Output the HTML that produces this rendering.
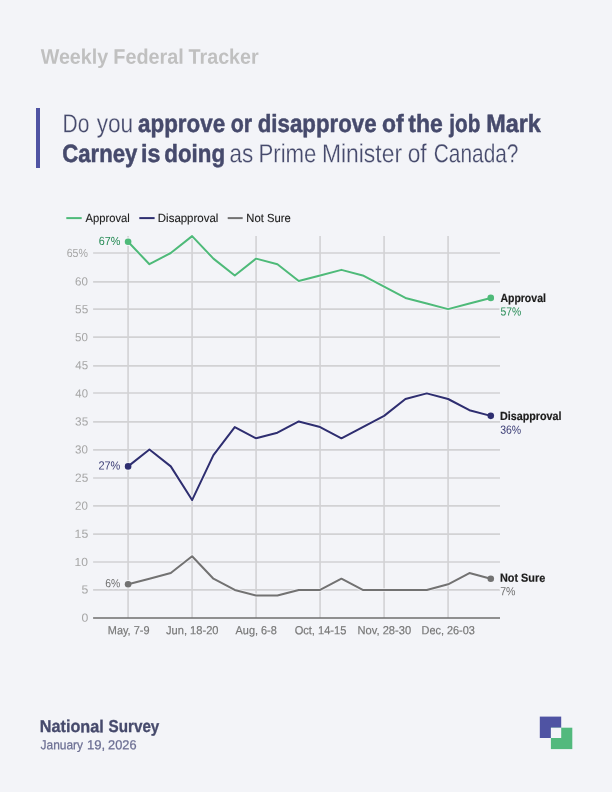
<!DOCTYPE html>
<html lang="en"><head><meta charset="utf-8"><title>Weekly Federal Tracker</title>
<style>
html,body{margin:0;padding:0;}
body{width:612px;height:792px;background:#f3f4f8;position:relative;overflow:hidden;}
svg{position:absolute;left:0;top:0;}
text{font-family:"Liberation Sans",sans-serif;white-space:pre;}
.h{paint-order:stroke;stroke:#f3f4f8;stroke-width:4px;stroke-linejoin:round;}
</style></head><body>
<svg width="612" height="792" viewBox="0 0 612 792">
<line x1="93.1" x2="500" y1="589.90" y2="589.90" stroke="#d2d2d4" stroke-width="1.7"/>
<line x1="93.1" x2="500" y1="562.00" y2="562.00" stroke="#d2d2d4" stroke-width="1.7"/>
<line x1="93.1" x2="500" y1="534.04" y2="534.04" stroke="#d2d2d4" stroke-width="1.7"/>
<line x1="93.1" x2="500" y1="505.87" y2="505.87" stroke="#d2d2d4" stroke-width="1.7"/>
<line x1="93.1" x2="500" y1="478.00" y2="478.00" stroke="#d2d2d4" stroke-width="1.7"/>
<line x1="93.1" x2="500" y1="449.80" y2="449.80" stroke="#d2d2d4" stroke-width="1.7"/>
<line x1="93.1" x2="500" y1="421.89" y2="421.89" stroke="#d2d2d4" stroke-width="1.7"/>
<line x1="93.1" x2="500" y1="393.00" y2="393.00" stroke="#d2d2d4" stroke-width="1.7"/>
<line x1="93.1" x2="500" y1="365.78" y2="365.78" stroke="#d2d2d4" stroke-width="1.7"/>
<line x1="93.1" x2="500" y1="337.17" y2="337.17" stroke="#d2d2d4" stroke-width="1.7"/>
<line x1="93.1" x2="500" y1="309.05" y2="309.05" stroke="#d2d2d4" stroke-width="1.7"/>
<line x1="93.1" x2="500" y1="281.80" y2="281.80" stroke="#d2d2d4" stroke-width="1.7"/>
<line x1="93.1" x2="500" y1="253.00" y2="253.00" stroke="#d2d2d4" stroke-width="1.7"/>
<line x1="128.08" x2="128.08" y1="236" y2="618" stroke="#d2d2d4" stroke-width="1.6"/>
<line x1="192.08" x2="192.08" y1="236" y2="618" stroke="#d2d2d4" stroke-width="1.6"/>
<line x1="256.08" x2="256.08" y1="236" y2="618" stroke="#d2d2d4" stroke-width="1.6"/>
<line x1="320.08" x2="320.08" y1="236" y2="618" stroke="#d2d2d4" stroke-width="1.6"/>
<line x1="384.08" x2="384.08" y1="236" y2="618" stroke="#d2d2d4" stroke-width="1.6"/>
<line x1="448.08" x2="448.08" y1="236" y2="618" stroke="#d2d2d4" stroke-width="1.6"/>
<line x1="93.1" x2="500" y1="618" y2="618" stroke="#6e6e6e" stroke-width="1.7"/>
<polyline fill="none" stroke="#f3f4f8" stroke-opacity="0.7" stroke-width="4" stroke-linejoin="round" points="128.10,241.77 149.43,264.23 170.77,253.00 192.10,236.15 213.43,258.62 234.77,275.46 256.10,258.62 277.43,264.23 298.77,281.08 320.10,275.46 341.43,269.85 362.77,275.46 384.10,286.69 405.43,297.92 426.77,303.54 448.10,309.15 469.43,303.54 490.77,297.92"/>
<circle cx="128.10" cy="241.77" r="4.2" fill="#f3f4f8"/>
<circle cx="490.77" cy="297.92" r="4.2" fill="#f3f4f8"/>
<polyline fill="none" stroke="#f3f4f8" stroke-opacity="0.7" stroke-width="4" stroke-linejoin="round" points="128.10,466.38 149.43,449.54 170.77,466.38 192.10,500.08 213.43,455.15 234.77,427.08 256.10,438.31 277.43,432.69 298.77,421.46 320.10,427.08 341.43,438.31 362.77,427.08 384.10,415.85 405.43,399.00 426.77,393.38 448.10,399.00 469.43,410.23 490.77,415.85"/>
<circle cx="128.10" cy="466.38" r="4.2" fill="#f3f4f8"/>
<circle cx="490.77" cy="415.85" r="4.2" fill="#f3f4f8"/>
<polyline fill="none" stroke="#f3f4f8" stroke-opacity="0.7" stroke-width="4" stroke-linejoin="round" points="128.10,584.31 149.43,578.69 170.77,573.08 192.10,556.23 213.43,578.69 234.77,589.92 256.10,595.54 277.43,595.54 298.77,589.92 320.10,589.92 341.43,578.69 362.77,589.92 384.10,589.92 405.43,589.92 426.77,589.92 448.10,584.31 469.43,573.08 490.77,578.69"/>
<circle cx="128.10" cy="584.31" r="4.2" fill="#f3f4f8"/>
<circle cx="490.77" cy="578.69" r="4.2" fill="#f3f4f8"/>
<polyline fill="none" stroke="#4eba79" stroke-width="2.00" stroke-linejoin="round" points="128.10,241.77 149.43,264.23 170.77,253.00 192.10,236.15 213.43,258.62 234.77,275.46 256.10,258.62 277.43,264.23 298.77,281.08 320.10,275.46 341.43,269.85 362.77,275.46 384.10,286.69 405.43,297.92 426.77,303.54 448.10,309.15 469.43,303.54 490.77,297.92"/>
<circle cx="128.10" cy="241.77" r="3.3" fill="#4eba79"/>
<circle cx="490.77" cy="297.92" r="3.3" fill="#4eba79"/>
<polyline fill="none" stroke="#2e2e70" stroke-width="2.00" stroke-linejoin="round" points="128.10,466.38 149.43,449.54 170.77,466.38 192.10,500.08 213.43,455.15 234.77,427.08 256.10,438.31 277.43,432.69 298.77,421.46 320.10,427.08 341.43,438.31 362.77,427.08 384.10,415.85 405.43,399.00 426.77,393.38 448.10,399.00 469.43,410.23 490.77,415.85"/>
<circle cx="128.10" cy="466.38" r="3.3" fill="#2e2e70"/>
<circle cx="490.77" cy="415.85" r="3.3" fill="#2e2e70"/>
<polyline fill="none" stroke="#727272" stroke-width="2.00" stroke-linejoin="round" points="128.10,584.31 149.43,578.69 170.77,573.08 192.10,556.23 213.43,578.69 234.77,589.92 256.10,595.54 277.43,595.54 298.77,589.92 320.10,589.92 341.43,578.69 362.77,589.92 384.10,589.92 405.43,589.92 426.77,589.92 448.10,584.31 469.43,573.08 490.77,578.69"/>
<circle cx="128.10" cy="584.31" r="3.3" fill="#727272"/>
<circle cx="490.77" cy="578.69" r="3.3" fill="#727272"/>
<line x1="66.3" x2="81.7" y1="218.1" y2="218.1" stroke="#4eba79" stroke-width="2.00"/>
<line x1="139.3" x2="154.6" y1="218.1" y2="218.1" stroke="#2e2e70" stroke-width="2.00"/>
<line x1="227.7" x2="242.7" y1="218.1" y2="218.1" stroke="#727272" stroke-width="2.00"/>
<rect x="539.8" y="716.6" width="21.4" height="21.4" fill="#4f53a3"/>
<rect x="550.9" y="727.7" width="21.4" height="21.4" fill="#52b97d"/>
<rect x="550.9" y="727.7" width="10.3" height="10.3" fill="#f3f4f8"/>
<rect x="36" y="108" width="4" height="60" fill="#4f53a3"/>
<text id="t0" transform="matrix(0.9380,0.0006,0,1,40.70,63.75)" font-size="21.00" fill="#c0c0c0" font-weight="700">Weekly</text>
<text id="t1" transform="matrix(0.9436,0.0006,0,1,113.28,63.75)" font-size="21.00" fill="#c0c0c0" font-weight="700">Federal</text>
<text id="t2" transform="matrix(0.9387,0.0006,0,1,188.57,63.75)" font-size="21.00" fill="#c0c0c0" font-weight="700">Tracker</text>
<text id="t3" transform="matrix(0.8067,0.0006,0,1,62.58,132.25)" font-size="26.00" fill="#464a6c" stroke="#f3f4f8" stroke-width="0.25">Do</text>
<text id="t4" transform="matrix(0.8704,0.0006,0,1,96.68,132.25)" font-size="26.00" fill="#464a6c" stroke="#f3f4f8" stroke-width="0.25">you</text>
<text id="t5" transform="matrix(0.8956,0.0006,0,1,138.05,131.90)" font-size="25.00" fill="#464a6c" font-weight="700" stroke="#464a6c" stroke-width="0.50">approve</text>
<text id="t6" transform="matrix(0.8583,0.0006,0,1,230.76,131.90)" font-size="25.00" fill="#464a6c" font-weight="700" stroke="#464a6c" stroke-width="0.50">or</text>
<text id="t7" transform="matrix(0.8917,0.0006,0,1,257.73,131.90)" font-size="25.00" fill="#464a6c" font-weight="700" stroke="#464a6c" stroke-width="0.50">disapprove</text>
<text id="t8" transform="matrix(0.9174,0.0006,0,1,382.11,131.90)" font-size="25.00" fill="#464a6c" font-weight="700" stroke="#464a6c" stroke-width="0.50">of</text>
<text id="t9" transform="matrix(0.9189,0.0006,0,1,408.30,131.90)" font-size="25.00" fill="#464a6c" font-weight="700" stroke="#464a6c" stroke-width="0.50">the</text>
<text id="t10" transform="matrix(0.8320,0.0006,0,1,449.22,131.90)" font-size="25.00" fill="#464a6c" font-weight="700" stroke="#464a6c" stroke-width="0.50">job</text>
<text id="t11" transform="matrix(0.9362,0.0006,0,1,486.20,131.90)" font-size="25.00" fill="#464a6c" font-weight="700" stroke="#464a6c" stroke-width="0.50">Mark</text>
<text id="t12" transform="matrix(0.8855,0.0006,0,1,62.24,161.90)" font-size="25.00" fill="#464a6c" font-weight="700" stroke="#464a6c" stroke-width="0.50">Carney</text>
<text id="t13" transform="matrix(0.9297,0.0006,0,1,141.01,161.90)" font-size="25.00" fill="#464a6c" font-weight="700" stroke="#464a6c" stroke-width="0.50">is</text>
<text id="t14" transform="matrix(0.8943,0.0006,0,1,164.23,161.90)" font-size="25.00" fill="#464a6c" font-weight="700" stroke="#464a6c" stroke-width="0.50">doing</text>
<text id="t15" transform="matrix(0.8640,0.0006,0,1,229.52,162.25)" font-size="26.00" fill="#464a6c" stroke="#f3f4f8" stroke-width="0.25">as</text>
<text id="t16" transform="matrix(0.8545,0.0006,0,1,258.48,162.25)" font-size="26.00" fill="#464a6c" stroke="#f3f4f8" stroke-width="0.25">Prime</text>
<text id="t17" transform="matrix(0.8805,0.0006,0,1,321.92,162.25)" font-size="26.00" fill="#464a6c" stroke="#f3f4f8" stroke-width="0.25">Minister</text>
<text id="t18" transform="matrix(0.8741,0.0006,0,1,407.71,162.25)" font-size="26.00" fill="#464a6c" stroke="#f3f4f8" stroke-width="0.25">of</text>
<text id="t19" transform="matrix(0.8039,0.0006,0,1,433.69,162.25)" font-size="26.00" fill="#464a6c" stroke="#f3f4f8" stroke-width="0.25">Canada?</text>
<text id="t20" transform="matrix(0.9508,0.0006,0,1,85.50,221.95)" font-size="11.80" fill="#202020" stroke="#202020" stroke-width="0.12">Approval</text>
<text id="t21" transform="matrix(0.9719,0.0006,0,1,157.83,221.95)" font-size="11.80" fill="#202020" stroke="#202020" stroke-width="0.12">Disapproval</text>
<text id="t22" transform="matrix(0.9533,0.0006,0,1,246.35,221.95)" font-size="11.80" fill="#202020" stroke="#202020" stroke-width="0.12">Not Sure</text>
<text id="t23" transform="matrix(1.0364,0.0006,0,1,81.38,621.75)" font-size="11.80" fill="#a6a6a6">0</text>
<text id="t24" transform="matrix(1.0364,0.0006,0,1,81.38,593.62)" font-size="11.80" fill="#a6a6a6">5</text>
<text id="t25" transform="matrix(1.0213,0.0006,0,1,74.58,565.90)" font-size="11.80" fill="#a6a6a6">10</text>
<text id="t26" transform="matrix(1.0435,0.0006,0,1,74.56,537.82)" font-size="11.80" fill="#a6a6a6">15</text>
<text id="t27" transform="matrix(0.9796,0.0006,0,1,75.11,509.74)" font-size="11.80" fill="#a6a6a6">20</text>
<text id="t28" transform="matrix(1.0000,0.0006,0,1,75.10,481.67)" font-size="11.80" fill="#a6a6a6">25</text>
<text id="t29" transform="matrix(0.9796,0.0006,0,1,75.11,453.59)" font-size="11.80" fill="#a6a6a6">30</text>
<text id="t30" transform="matrix(1.0000,0.0006,0,1,75.10,425.51)" font-size="11.80" fill="#a6a6a6">35</text>
<text id="t31" transform="matrix(0.9600,0.0006,0,1,75.36,397.43)" font-size="11.80" fill="#a6a6a6">40</text>
<text id="t32" transform="matrix(0.9796,0.0006,0,1,75.36,369.36)" font-size="11.80" fill="#a6a6a6">45</text>
<text id="t33" transform="matrix(0.9796,0.0006,0,1,75.11,341.28)" font-size="11.80" fill="#a6a6a6">50</text>
<text id="t34" transform="matrix(1.0000,0.0006,0,1,75.10,313.20)" font-size="11.80" fill="#a6a6a6">55</text>
<text id="t35" transform="matrix(0.9796,0.0006,0,1,75.11,285.48)" font-size="11.80" fill="#a6a6a6">60</text>
<text id="t36" transform="matrix(0.9011,0.0006,0,1,66.65,257.05)" font-size="11.80" fill="#a6a6a6">65%</text>
<text id="t37" transform="matrix(0.9257,0.0006,0,1,107.81,634.30)" font-size="11.80" fill="#787878" stroke="#787878" stroke-width="0.20">May, 7-9</text>
<text id="t38" transform="matrix(0.9423,0.0006,0,1,166.00,634.30)" font-size="11.80" fill="#787878" stroke="#787878" stroke-width="0.20">Jun, 18-20</text>
<text id="t39" transform="matrix(0.9243,0.0006,0,1,235.60,634.30)" font-size="11.80" fill="#787878" stroke="#787878" stroke-width="0.20">Aug, 6-8</text>
<text id="t40" transform="matrix(0.9401,0.0006,0,1,294.63,634.30)" font-size="11.80" fill="#787878" stroke="#787878" stroke-width="0.20">Oct, 14-15</text>
<text id="t41" transform="matrix(0.9417,0.0006,0,1,357.59,634.30)" font-size="11.80" fill="#787878" stroke="#787878" stroke-width="0.20">Nov, 28-30</text>
<text id="t42" transform="matrix(0.9257,0.0006,0,1,421.51,634.30)" font-size="11.80" fill="#787878" stroke="#787878" stroke-width="0.20">Dec, 26-03</text>
<text id="t43" transform="matrix(0.9187,0.0006,0,1,98.74,244.90)" font-size="11.80" fill="#268b55" class="h">67%</text>
<text id="t44" transform="matrix(0.9297,0.0006,0,1,98.44,469.50)" font-size="11.80" fill="#3c3e76" class="h">27%</text>
<text id="t45" transform="matrix(0.8812,0.0006,0,1,105.26,587.30)" font-size="11.80" fill="#707070" class="h">6%</text>
<text id="t46" transform="matrix(0.8915,0.0006,0,1,500.38,302.00)" font-size="11.80" fill="#1c1c1c" font-weight="700" stroke="#1c1c1c" stroke-width="0.20">Approval</text>
<text id="t47" transform="matrix(0.8791,0.0006,0,1,500.46,315.50)" font-size="11.80" fill="#268b55" class="h">57%</text>
<text id="t48" transform="matrix(0.9136,0.0006,0,1,499.91,420.00)" font-size="11.80" fill="#1c1c1c" font-weight="700" stroke="#1c1c1c" stroke-width="0.20">Disapproval</text>
<text id="t49" transform="matrix(0.8923,0.0006,0,1,500.15,433.70)" font-size="11.80" fill="#3c3e76" class="h">36%</text>
<text id="t50" transform="matrix(0.9223,0.0006,0,1,499.91,581.85)" font-size="11.80" fill="#1c1c1c" font-weight="700" stroke="#1c1c1c" stroke-width="0.20">Not Sure</text>
<text id="t51" transform="matrix(0.9000,0.0006,0,1,500.15,595.35)" font-size="11.80" fill="#707070" class="h">7%</text>
<text id="t52" transform="matrix(0.9414,0.0006,0,1,39.86,732.10)" font-size="17.20" fill="#464a6c" font-weight="700" stroke="#464a6c" stroke-width="0.30">National</text>
<text id="t53" transform="matrix(0.8877,0.0006,0,1,108.46,732.10)" font-size="17.20" fill="#464a6c" font-weight="700" stroke="#464a6c" stroke-width="0.30">Survey</text>
<text id="t54" transform="matrix(0.9189,0.0006,0,1,40.60,749.30)" font-size="13.00" fill="#6c6f93" stroke="#6c6f93" stroke-width="0.25">January</text>
<text id="t55" transform="matrix(1.0092,0.0006,0,1,86.94,749.30)" font-size="13.00" fill="#6c6f93" stroke="#6c6f93" stroke-width="0.25">19,</text>
<text id="t56" transform="matrix(0.9857,0.0006,0,1,108.11,749.30)" font-size="13.00" fill="#6c6f93" stroke="#6c6f93" stroke-width="0.25">2026</text>
</svg>
</body></html>
